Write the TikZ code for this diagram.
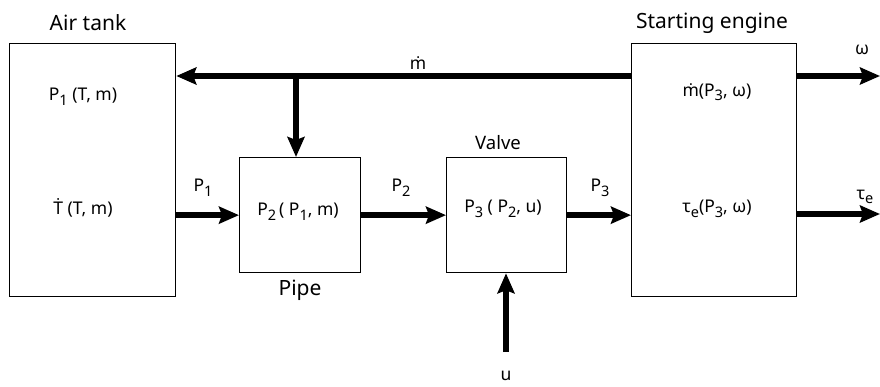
\documentclass[tikz,border=0pt]{standalone}
\usepackage{fontspec}
\setmainfont{Noto Sans}
\usetikzlibrary{arrows.meta}
\newcommand{\lo}[1]{\raisebox{-0.5ex}{\fontsize{14.5}{14}\selectfont #1}}
\begin{document}
\begin{tikzpicture}[x=1pt,y=-1pt,
  box/.style={draw, line width=1.3pt, anchor=north west, inner sep=0pt},
  flow/.style={line width=6pt, -{Stealth[length=20pt,width=17pt,inset=3pt]}},
  lbl/.style={font=\fontsize{17.5}{20}\selectfont, inner sep=0pt},
  title/.style={font=\fontsize{21}{24}\selectfont, inner sep=0pt}]
\useasboundingbox (0,0) rectangle (880,387);
% boxes
\node[box, minimum width=166pt, minimum height=253pt] (tank) at (9,43) {};
\node[box, minimum width=121pt, minimum height=115pt] (pipe) at (239,157) {};
\node[box, minimum width=120pt, minimum height=115pt] (valve) at (446,157) {};
\node[box, minimum width=165pt, minimum height=253pt] (engine) at (631,43) {};
% coordinates
\coordinate (j) at (296,76);
\coordinate (wout) at (880,76);
\coordinate (tout) at (880,214);
\coordinate (uin) at (506,352);
% connectors
\draw[flow] (engine.west |- j) -- (tank.east |- j);
\draw[flow] (j) -- (j |- pipe.north);
\draw[flow] (tank.east |- pipe.west) -- (pipe.west);
\draw[flow] (pipe.east) -- (valve.west);
\draw[flow] (valve.east) -- (engine.west |- valve.east);
\draw[flow] (engine.east |- wout) -- (wout);
\draw[flow] (engine.east |- tout) -- (tout);
\draw[flow] (uin) -- (uin |- valve.south);
% labels
\node[title] (tanklbl) at (88,23) {Air tank};
\node[title] (englbl) at (712,23) {Starting engine};
\node[title] (pipelbl) at (300,290) {Pipe};
\node[lbl, font=\fontsize{18.5}{20}\selectfont] (valvelbl) at (498,143) {Valve};
\node[lbl] (t1) at (83,97) {P\lo{1} (T, m)};
\node[lbl] (t2) at (83,208) {Ṫ (T, m)};
\node[lbl] (mdot) at (418,63) {ṁ};
\node[lbl] (p1) at (203,188) {P\lo{1}};
\node[lbl] (p2) at (401,188) {P\lo{2}};
\node[lbl] (p3) at (600,188) {P\lo{3}};
\node[lbl] (pipetxt) at (298,212) {P\lo{2}\,( P\lo{1}, m)};
\node[lbl] (valvetxt) at (503,209) {P\lo{3} ( P\lo{2}, u)};
\node[lbl] (e1) at (717,92) {ṁ(P\lo{3}, ω)};
\node[lbl] (e2) at (717,209) {τ\lo{e}(P\lo{3}, ω)};
\node[lbl] (w) at (862,50) {ω};
\node[lbl] (tau) at (865,197) {τ\lo{e}};
\node[lbl] (u) at (506,376) {u};
\end{tikzpicture}
\end{document}
